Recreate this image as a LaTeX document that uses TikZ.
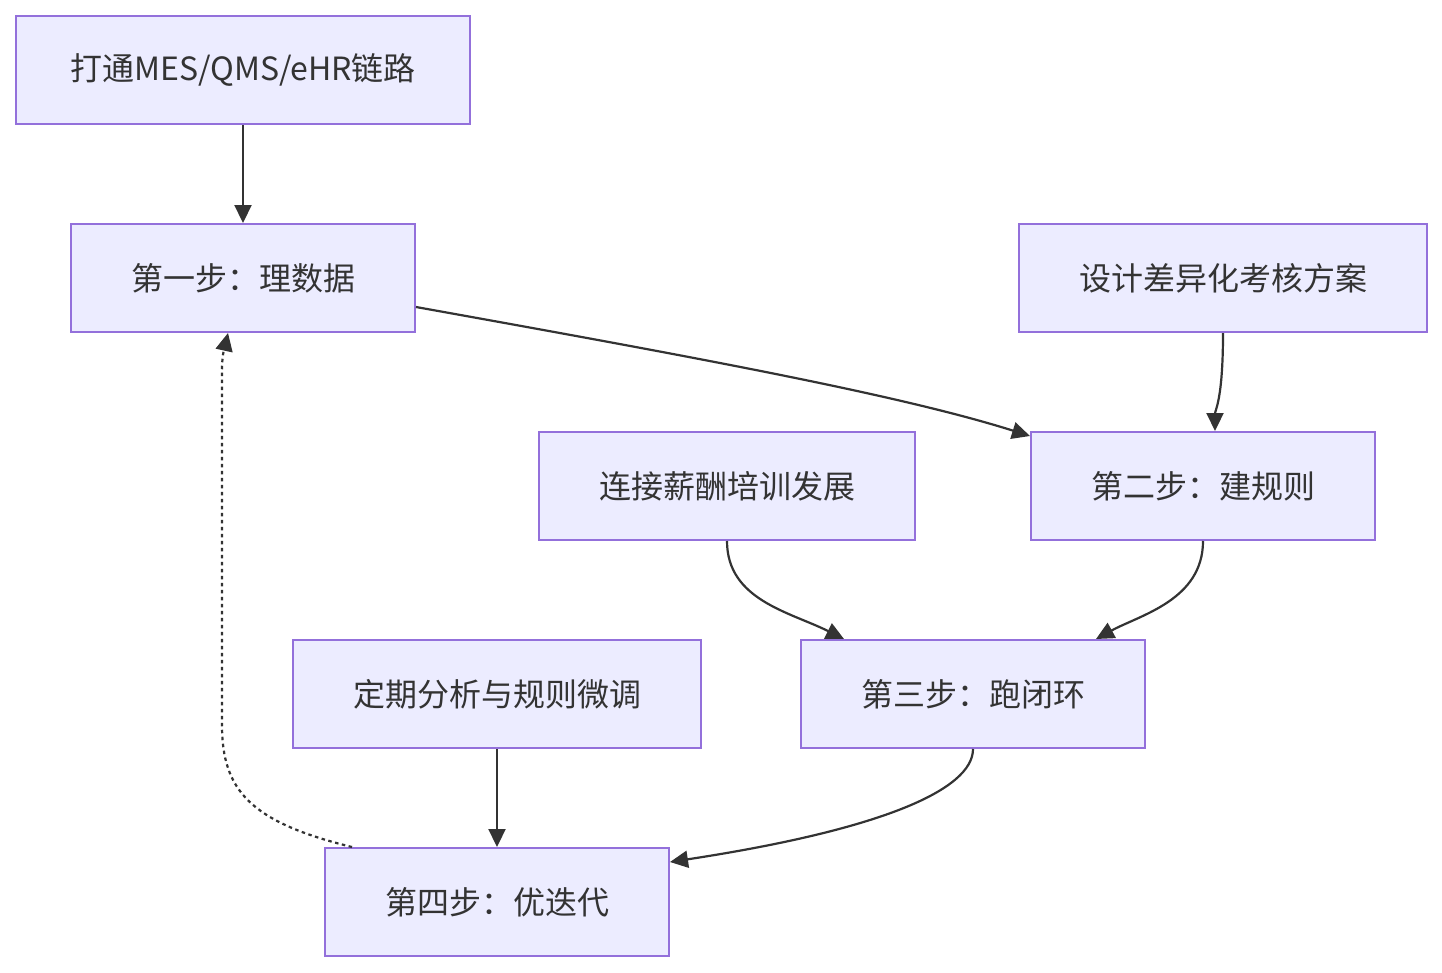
\documentclass[tikz,border=0pt]{standalone}
\usepackage{fontspec}
\setmainfont{Noto Sans CJK SC}
\usepackage{tikz}
\usetikzlibrary{arrows.meta, positioning, calc}
\definecolor{mFill}{HTML}{ECECFF}
\definecolor{mLine}{HTML}{9370DB}
\definecolor{mText}{HTML}{333333}

\begin{document}
\begin{tikzpicture}[x=1pt, y=-1pt,
      bx/.style={draw=mLine, fill=mFill, line width=2pt, minimum height=108pt,
        text=mText, font=\fontsize{32}{38}\selectfont, inner sep=0pt},
      ln/.style={draw=mText, line width=2.2pt,
        -{Triangle[length=18pt, width=17pt]}},
      dotln/.style={ln, dash pattern=on 3.5pt off 3.5pt}]
    \useasboundingbox (0,0) rectangle (1442,972);
    \node[bx, minimum width=454pt] (raw)    at (243,70)   {打通MES/QMS/eHR链路};
    \node[bx, minimum width=344pt] (s1)     at (243,278)  {第一步：理数据};
    \node[bx, minimum width=408pt] (design) at (1223,278) {设计差异化考核方案};
    \node[bx, minimum width=376pt] (link)   at (727,486)  {连接薪酬培训发展};
    \node[bx, minimum width=344pt] (s2)     at (1203,486) {第二步：建规则};
    \node[bx, minimum width=408pt] (review) at (497,694)  {定期分析与规则微调};
    \node[bx, minimum width=344pt] (s3)     at (973,694)  {第三步：跑闭环};
    \node[bx, minimum width=344pt] (s4)     at (497,902)  {第四步：优迭代};

    \draw[ln] (raw) -- (s1);
    \draw[ln] ($(s1.east)+(0,29)$) .. controls (700,358) and (900,395) .. ($(s2.north west)+(0,5)$);
    \draw[ln] (design.south) .. controls (1223,400) and (1215,410) .. ($(s2.north)+(12,0)$);
    \draw[ln] (link.south) .. controls (727,600) and (790,612) .. ($(s3.north west)+(44,0)$);
    \draw[ln] (s2.south) .. controls (1203,600) and (1140,615) .. ($(s3.north east)+(-50,0)$);
    \draw[ln] (review) -- (s4);
    \draw[ln] (s3.south) .. controls (973,790) and (880,830) .. ($(s4.east)+(0,-40)$);
    % loop back
    \draw[dotln] ($(s4.north west)+(28,0)$) .. controls (250,822) and (222,790) .. (222,725)
      -- (222,370) .. controls (222,352) and (226,342) .. ($(s1.south)+(-15,0)$);
  \end{tikzpicture}
\end{document}
